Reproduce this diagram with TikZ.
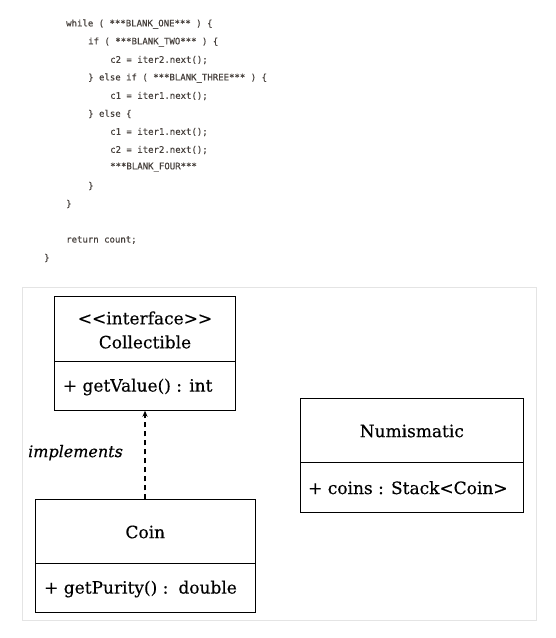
\documentclass[tikz,border=0pt]{standalone}
\usepackage{fontspec}
\setmainfont[FakeBold=0.35]{DejaVu Serif}
\newfontfamily\codefont[FakeBold=0.3]{DejaVu Sans Mono}
\usetikzlibrary{arrows.meta}
\definecolor{codecol}{RGB}{70,64,60}
\definecolor{framecol}{RGB}{228,228,228}
\tikzset{
  codeline/.style={anchor=west, inner sep=0pt, font=\codefont\fontsize{9}{9}\selectfont, text=codecol},
  umlbox/.style={draw=black, line width=0.9pt},
  umltext/.style={inner sep=0pt, font=\fontsize{17}{17}\selectfont},
  umlmember/.style={umltext, anchor=west},
}
\begin{document}
\begin{tikzpicture}[x=1pt,y=-1pt]
\useasboundingbox (0,0) rectangle (556,638);
% code
\node[codeline] (l1) at (66,24) {while ( ***BLANK\_ONE*** ) \{};
\node[codeline] (l2) at (88,42) {if ( ***BLANK\_TWO*** ) \{};
\node[codeline] (l3) at (110,60) {c2 = iter2.next();};
\node[codeline] (l4) at (88,78) {\} else if ( ***BLANK\_THREE*** ) \{};
\node[codeline] (l5) at (110,96) {c1 = iter1.next();};
\node[codeline] (l6) at (88,114) {\} else \{};
\node[codeline] (l7) at (110,132) {c1 = iter1.next();};
\node[codeline] (l8) at (110,150) {c2 = iter2.next();};
\node[codeline] (l9) at (110,167) {***BLANK\_FOUR***};
\node[codeline] (l10) at (88,186) {\}};
\node[codeline] (l11) at (66,204) {\}};
\node[codeline] (l12) at (66,240) {return count;};
\node[codeline] (l13) at (44,258) {\}};
% frame
\draw[framecol, line width=0.8pt] (22.5,287.5) rectangle (536,620.5);
% Collectible
\draw[umlbox] (54.3,296.7) rectangle (235.7,410.7);
\draw[umlbox] (54.3,361.3) -- (235.7,361.3);
\node[umltext] (cst) at (145,318) {<{}<interface>{}>};
\node[umltext] (cnm) at (145,342) {Collectible};
\node[umlmember] (cm) at (62.7,387) {+ getValue() : int};
\coordinate (collbot) at (145,410.7);
% Coin
\draw[umlbox] (35.7,499.3) rectangle (255,612.7);
\draw[umlbox] (35.7,563.3) -- (255,563.3);
\node[umltext] (coin) at (145.3,532) {Coin};
\node[umlmember] (coinm) at (44,589) {+ getPurity() :\, double};
\coordinate (cointop) at (145,499.3);
% Numismatic
\draw[umlbox] (300,398.3) rectangle (523.7,512);
\draw[umlbox] (300,462.3) -- (523.7,462.3);
\node[umltext] (num) at (411.8,431) {Numismatic};
\node[umlmember] (numm) at (308,487.7) {+ coins : Stack<Coin>};
% arrow
\draw[dashed, dash pattern=on 5pt off 4pt, line width=1.1pt, -{Stealth[length=6pt,width=5pt]}] (cointop) -- (collbot);
\node[umltext, font=\itshape\fontsize{16}{16}\selectfont] (impl) at (75.5,452.7) {implements};
\end{tikzpicture}
\end{document}
